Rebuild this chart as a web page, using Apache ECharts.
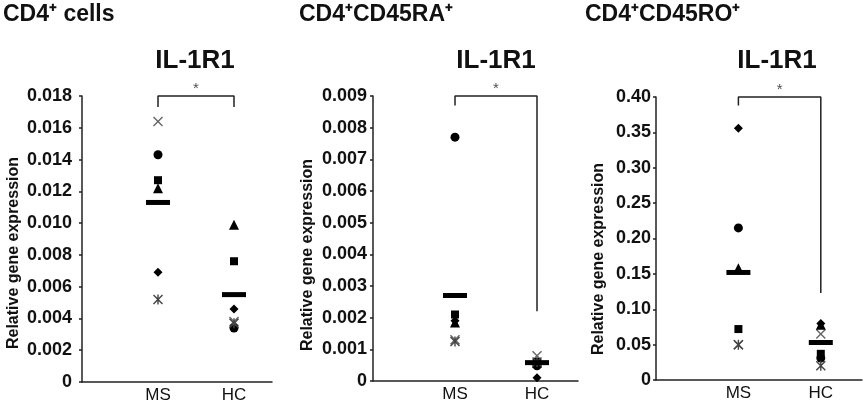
<!DOCTYPE html>
<html>
<head>
<meta charset="utf-8">
<script src="https://cdn.jsdelivr.net/npm/echarts@6/dist/echarts.min.js"></script>
<style>
html,body{margin:0;padding:0;background:#fff;}
#chart{width:865px;height:404px;}
</style>
</head>
<body>
<div id="chart"></div>
<script>
// ---- data ----
const groups = ['MS', 'HC'];
const markerShapes = ['cross', 'circle', 'square', 'triangle', 'diamond', 'asterisk'];
// values per subject marker, order as markerShapes
const cd4MS = [0.0164, 0.0143, 0.0127, 0.0122, 0.0069, 0.0052];
const cd4HC = [0.0038, 0.0034, 0.0076, 0.0099, 0.0046, 0.0037];
const cd4Mean = [0.0113, 0.0055];
const raMS = [0.0013, 0.0077, 0.0021, 0.00185, 0.0019, 0.00125];
const raHC = [0.0008, 0.00048, 0.0006, 0.00058, 0.0001, 0.0006];
const raMean = [0.0027, 0.00058];
const roMS = [0.050, 0.215, 0.072, 0.158, 0.356, 0.050];
const roHC = [0.065, 0.031, 0.037, 0.078, 0.080, 0.020];
const roMean = [0.152, 0.053];
// significance bracket: [left leg end, top, right leg end]
const cd4Bracket = [0.0173, 0.018, 0.0173];
const raBracket = [0.0087, 0.009, 0.0022];
const roBracket = [0.388, 0.40, 0.123];
const panelTitles = ['CD4\u207A cells', 'CD4\u207ACD45RA\u207A', 'CD4\u207ACD45RO\u207A'];
const geneTitle = 'IL-1R1';
const yAxisName = 'Relative gene expression';
const sigLabel = '*';

// ---- layout / style ----
const panels = [
  { ms: cd4MS, hc: cd4HC, mean: cd4Mean, bracket: cd4Bracket, max: 0.018, interval: 0.002, dec: 3,
    grid: { left: 82, top: 96, width: 190, height: 287 }, labelMargin: 10,
    titleX: 3, geneX: 195, nameX: 14, nameY: 253 },
  { ms: raMS, hc: raHC, mean: raMean, bracket: raBracket, max: 0.009, interval: 0.001, dec: 3,
    grid: { left: 373, top: 96, width: 205, height: 285 }, labelMargin: 6,
    titleX: 299, geneX: 496, nameX: 308, nameY: 255 },
  { ms: roMS, hc: roHC, mean: roMean, bracket: roBracket, max: 0.40, interval: 0.05, dec: 2,
    grid: { left: 656, top: 97, width: 209, height: 283 }, labelMargin: 5,
    titleX: 585, geneX: 777, nameX: 599, nameY: 259 }
];

const symbolDefs = {
  cross: { symbol: 'path://M1,0L5,4L9,0L10,1L6,5L10,9L9,10L5,6L1,10L0,9L4,5L0,1Z', size: 10, color: '#666' },
  circle: { symbol: 'circle', size: 9, color: '#000' },
  square: { symbol: 'rect', size: 8, color: '#000' },
  triangle: { symbol: 'triangle', size: 10, color: '#000' },
  diamond: { symbol: 'diamond', size: 9, color: '#000' },
  asterisk: { symbol: 'path://M1,0L5,4L9,0L10,1L6,5L10,9L9,10L5,6L1,10L0,9L4,5L0,1Z M4.3,0L5.7,0L5.7,10L4.3,10Z', size: 10, color: '#444' }
};

const FONT = '"Liberation Sans", Arial, sans-serif';
const axisColor = '#222';

const grids = [], xAxes = [], yAxes = [], series = [], graphics = [];

panels.forEach((p, i) => {
  grids.push(Object.assign({ containLabel: false }, p.grid));
  xAxes.push({
    type: 'value', gridIndex: i, min: 0, max: 2.5, interval: 1,
    axisLine: { show: true, onZero: false, lineStyle: { color: axisColor, width: 1.5 } },
    axisTick: { show: false }, splitLine: { show: false },
    axisLabel: {
      margin: 5, fontSize: 17, color: '#111', fontFamily: FONT,
      formatter: v => (v >= 1 && v <= groups.length && Number.isInteger(v)) ? groups[v - 1] : ''
    }
  });
  yAxes.push({
    type: 'value', gridIndex: i, min: 0, max: p.max, interval: p.interval,
    axisLine: { show: true, lineStyle: { color: axisColor, width: 1.5 } },
    axisTick: { show: true, length: 3, lineStyle: { color: axisColor, width: 1.5 } },
    splitLine: { show: false },
    axisLabel: {
      margin: p.labelMargin, fontSize: 18, fontWeight: 'bold', color: '#111', fontFamily: FONT,
      formatter: v => v === 0 ? '0' : v.toFixed(p.dec)
    }
  });
  markerShapes.forEach((shape, k) => {
    const d = symbolDefs[shape];
    series.push({
      type: 'scatter', xAxisIndex: i, yAxisIndex: i, z: 2,
      symbol: d.symbol, symbolSize: d.size,
      itemStyle: { color: d.color, opacity: 1 },
      data: [[1, p.ms[k]], [2, p.hc[k]]],
      silent: true
    });
  });
  series.push({
    type: 'scatter', xAxisIndex: i, yAxisIndex: i, z: 3,
    symbol: 'rect', symbolSize: [24, 5],
    itemStyle: { color: '#000', opacity: 1 },
    data: p.mean.map((m, g) => [g + 1, m]), silent: true
  });
  series.push({
    type: 'line', xAxisIndex: i, yAxisIndex: i, z: 4, clip: false,
    symbol: 'none', lineStyle: { color: axisColor, width: 1.5 },
    data: [[1, p.bracket[0]], [1, p.bracket[1]], [2, p.bracket[1]], [2, p.bracket[2]]],
    silent: true
  });
  series.push({
    type: 'scatter', xAxisIndex: i, yAxisIndex: i, z: 4,
    symbolSize: 0, data: [[1.5, p.bracket[1]]],
    label: { show: true, position: 'top', distance: 0, formatter: sigLabel, fontSize: 15, color: '#222', fontFamily: FONT },
    silent: true
  });
  graphics.push({
    type: 'text', x: p.titleX, y: 15,
    style: { text: panelTitles[i], font: 'bold 23px ' + FONT, fill: '#111', textAlign: 'left', textVerticalAlign: 'middle' }
  });
  graphics.push({
    type: 'text', x: p.geneX, y: 61,
    style: { text: geneTitle, font: 'bold 26px ' + FONT, fill: '#111', textAlign: 'center', textVerticalAlign: 'middle' }
  });
  graphics.push({
    type: 'text', x: p.nameX, y: p.nameY, rotation: Math.PI / 2,
    style: { text: yAxisName, font: 'bold 16px ' + FONT, fill: '#111', textAlign: 'center', textVerticalAlign: 'middle' }
  });
});

const chart = echarts.init(document.getElementById('chart'), null, { renderer: 'canvas' });
chart.setOption({
  animation: false,
  backgroundColor: '#fff',
  grid: grids, xAxis: xAxes, yAxis: yAxes, series: series, graphic: graphics
});
</script>
</body>
</html>
